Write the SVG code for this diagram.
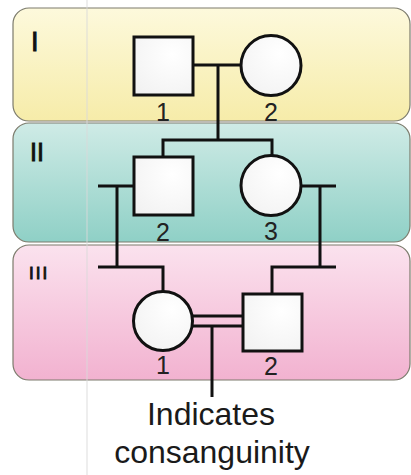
<svg xmlns="http://www.w3.org/2000/svg" width="411" height="475" viewBox="0 0 411 475">
  <defs>
    <linearGradient id="gYellow" x1="0" y1="0" x2="0" y2="1">
      <stop offset="0" stop-color="#fdf9dc"/>
      <stop offset="1" stop-color="#f6eca9"/>
    </linearGradient>
    <linearGradient id="gTeal" x1="0" y1="0" x2="0" y2="1">
      <stop offset="0" stop-color="#cfebe6"/>
      <stop offset="1" stop-color="#8fd0c6"/>
    </linearGradient>
    <linearGradient id="gPink" x1="0" y1="0" x2="0" y2="1">
      <stop offset="0" stop-color="#fbe2ee"/>
      <stop offset="1" stop-color="#f2b2d0"/>
    </linearGradient>
    <radialGradient id="gNode" cx="0.65" cy="0.3" r="0.9">
      <stop offset="0" stop-color="#ffffff"/>
      <stop offset="1" stop-color="#f1f1f1"/>
    </radialGradient>
    <style>
      .band { stroke: #7c7b6c; stroke-width: 1.2; }
      .node { fill: url(#gNode); stroke: #111; stroke-width: 3; }
      .link { fill: none; stroke: #111; stroke-width: 3; }
      .gen { font-family: "Liberation Sans", Arial, sans-serif; fill: #111; stroke: #111; stroke-width: 0.9; }
      .num { font-family: "Liberation Sans", Arial, sans-serif; font-size: 25px; fill: #222; text-anchor: middle; }
      .note { font-family: "Liberation Sans", Arial, sans-serif; font-size: 32px; fill: #1a1a1a; text-anchor: middle; }
    </style>
  </defs>

  <rect width="411" height="475" fill="#ffffff"/>

  <!-- generation bands -->
  <g id="bands">
    <rect class="band" x="13" y="8" width="397" height="113" rx="16" fill="url(#gYellow)"/>
    <rect class="band" x="13" y="123" width="397" height="119" rx="16" fill="url(#gTeal)"/>
    <rect class="band" x="13" y="245" width="397" height="135" rx="16" fill="url(#gPink)"/>
  </g>

  <!-- faint background line -->
  <line x1="87" y1="0" x2="87" y2="475" stroke="#d9d9d9" stroke-opacity="0.6" stroke-width="1.5"/>

  <!-- generation numerals -->
  <g id="generations">
    <text class="gen" x="31" y="51" font-size="27">I</text>
    <text class="gen" x="30" y="161" font-size="25">II</text>
    <text class="gen" x="29" y="279" font-size="17" letter-spacing="2">III</text>
  </g>

  <!-- connectors -->
  <g id="connectors">
    <path class="link" d="M193 65 H241"/>
    <path class="link" d="M218 65 V140"/>
    <path class="link" d="M163 156 V140 H272 V155"/>
    <path class="link" d="M133 186 H98"/>
    <path class="link" d="M117 186 V267"/>
    <path class="link" d="M98 267 H163 V292"/>
    <path class="link" d="M302 186 H336"/>
    <path class="link" d="M320 186 V267"/>
    <path class="link" d="M336 267 H272 V293"/>
    <path class="link" d="M193 316 H242"/>
    <path class="link" d="M193 326 H242"/>
    <path class="link" d="M212 326 V397"/>
  </g>

  <!-- generation I -->
  <g id="I-1">
    <rect class="node" x="134" y="37" width="59" height="58"/>
    <text class="num" x="163" y="121">1</text>
  </g>
  <g id="I-2">
    <circle class="node" cx="271" cy="65.5" r="30"/>
    <text class="num" x="271" y="121">2</text>
  </g>

  <!-- generation II -->
  <g id="II-2">
    <rect class="node" x="134" y="157" width="59" height="58"/>
    <text class="num" x="163" y="241">2</text>
  </g>
  <g id="II-3">
    <circle class="node" cx="271" cy="185.5" r="30"/>
    <text class="num" x="271" y="240">3</text>
  </g>

  <!-- generation III -->
  <g id="III-1">
    <circle class="node" cx="163" cy="321" r="29.5"/>
    <text class="num" x="163" y="374">1</text>
  </g>
  <g id="III-2">
    <rect class="node" x="243" y="294" width="59" height="57"/>
    <text class="num" x="271" y="375">2</text>
  </g>

  <!-- consanguinity note -->
  <g id="note">
    <text class="note" x="211" y="425">Indicates</text>
    <text class="note" x="212" y="463">consanguinity</text>
  </g>
</svg>
